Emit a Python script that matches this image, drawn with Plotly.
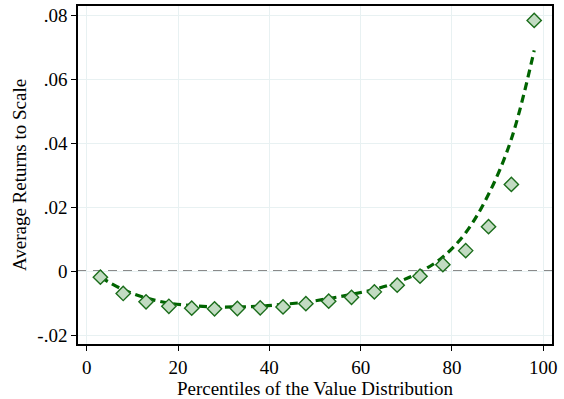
import plotly.graph_objects as go

# Percentile bins of the value distribution (bin midpoints)
percentiles = [3, 8, 13, 18, 23, 28, 33, 38, 43, 48, 53, 58, 63, 68, 73, 78, 83, 88, 93, 98]

# Average returns to scale in each bin
avg_returns = [-0.0019, -0.0070, -0.0096, -0.0110, -0.0116, -0.0118, -0.0117, -0.0115,
               -0.0112, -0.0102, -0.0094, -0.0082, -0.0065, -0.0044, -0.0016, 0.0020,
               0.0064, 0.0139, 0.0271, 0.0784]

# Fitted curve evaluated at the same bins
fitted = [-0.0019, -0.0058, -0.0084, -0.0100, -0.0108, -0.0112, -0.0112, -0.0110,
          -0.0104, -0.0097, -0.0086, -0.0073, -0.0057, -0.0035, -0.0003, 0.0044,
          0.0120, 0.0240, 0.0413, 0.0690]

y_ticks = [-0.02, 0, 0.02, 0.04, 0.06, 0.08]
y_tick_labels = ["-.02", "0", ".02", ".04", ".06", ".08"]
x_ticks = [0, 20, 40, 60, 80, 100]

FONT = "Liberation Serif, Times New Roman, serif"
GRID = "#e8f1f2"

fig = go.Figure()

fig.add_trace(go.Scatter(
    x=percentiles, y=fitted, mode="lines",
    line=dict(color="#006400", width=3.2, dash="8px,5px", shape="spline"),
    hoverinfo="skip", showlegend=False,
))

fig.add_trace(go.Scatter(
    x=percentiles, y=avg_returns, mode="markers",
    marker=dict(symbol="diamond", size=11, color="#c2dbc2",
                line=dict(color="#1b6d1b", width=1.4)),
    showlegend=False,
))

# Reference line at zero
fig.add_hline(y=0, line=dict(color="#8a8a8a", width=2, dash="9px,6px"), layer="below")

fig.update_layout(
    width=564, height=399,
    margin=dict(l=78, r=12, t=4, b=55),
    paper_bgcolor="white", plot_bgcolor="white",
    font=dict(family=FONT, size=19, color="black"),
)

fig.update_xaxes(
    range=[-1.9, 101.9], tickvals=x_ticks, ticks="outside", ticklen=5,
    tickcolor="black", showline=True, linecolor="black", linewidth=1.5,
    mirror=True, showgrid=True, gridcolor=GRID, gridwidth=1, zeroline=False,
    title=dict(text="Percentiles of the Value Distribution", standoff=0,
               font=dict(family=FONT, size=19)),
)

fig.update_yaxes(
    range=[-0.0228, 0.0829], tickvals=y_ticks, ticktext=y_tick_labels,
    ticks="outside", ticklen=5, tickcolor="black", showline=True,
    linecolor="black", linewidth=1.5, mirror=True, showgrid=True,
    gridcolor=GRID, gridwidth=1, zeroline=False,
    title=dict(text="Average Returns to Scale", standoff=6,
               font=dict(family=FONT, size=19)),
)

fig.write_html("out.html")
